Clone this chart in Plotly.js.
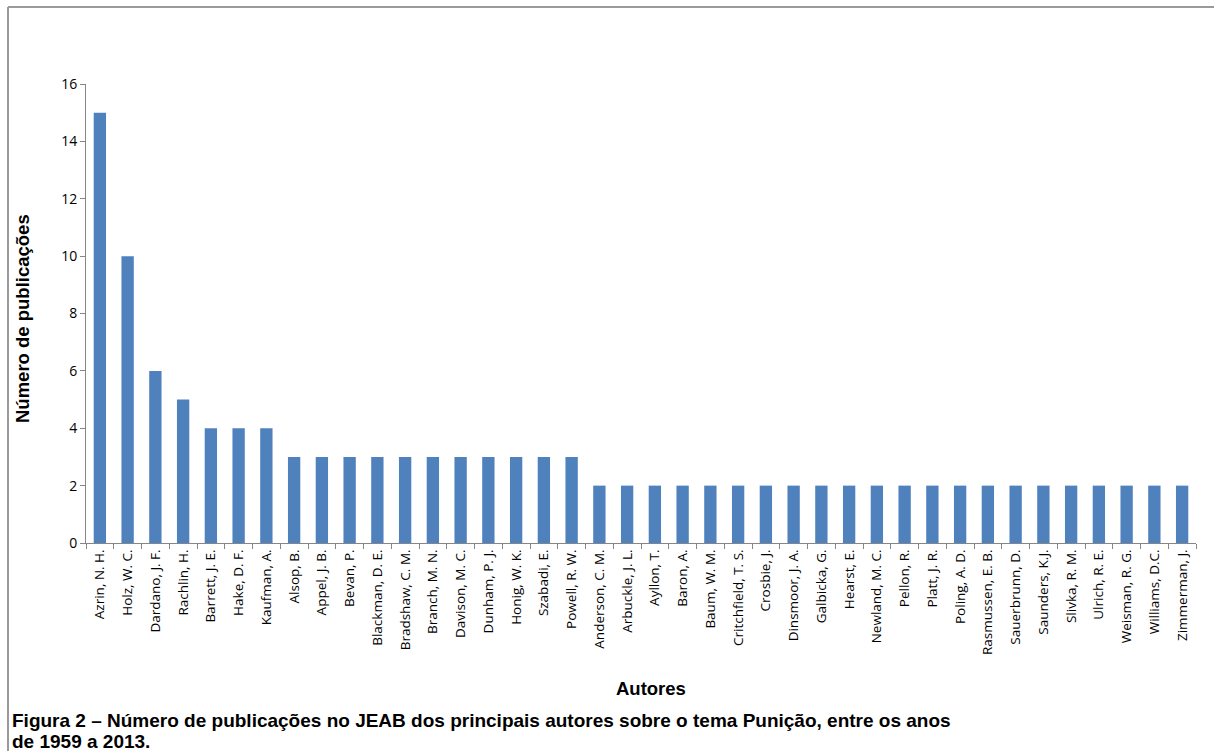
<!DOCTYPE html>
<html>
<head>
<meta charset="utf-8">
<script src="https://cdn.plot.ly/plotly-3.0.1.min.js"></script>
<style>html,body{margin:0;padding:0;background:#fff;}#chart{width:1214px;height:751px;}</style>
</head>
<body>
<div id="chart"></div>
<script>
const autores = ["Azrin, N. H.","Holz, W. C.","Dardano, J. F.","Rachlin, H.","Barrett, J. E.","Hake, D. F.","Kaufman, A.","Alsop, B.","Appel, J. B.","Bevan, P.","Blackman, D. E.","Bradshaw, C. M.","Branch, M. N.","Davison, M. C.","Dunham, P. J.","Honig, W. K.","Szabadi, E.","Powell, R. W.","Anderson, C. M.","Arbuckle, J. L.","Ayllon, T.","Baron, A.","Baum, W. M.","Critchfield, T. S.","Crosbie, J.","Dinsmoor, J. A.","Galbicka, G.","Hearst, E.","Newland, M. C.","Pellon, R.","Platt, J. R.","Poling, A. D.","Rasmussen, E. B.","Sauerbrunn, D.","Saunders, K.J.","Slivka, R. M.","Ulrich, R. E.","Weisman, R. G.","Williams, D.C.","Zimmerman, J."];
const publicacoes = [15,10,6,5,4,4,4,3,3,3,3,3,3,3,3,3,3,3,2,2,2,2,2,2,2,2,2,2,2,2,2,2,2,2,2,2,2,2,2,2];
const yTicks = [0,2,4,6,8,10,12,14,16];
const yTitle = "Número de publicações";
const xTitle = "Autores";
const captionLine1 = "Figura 2 – Número de publicações no JEAB dos principais autores sobre o tema Punição, entre os anos";
const captionLine2 = "de 1959 a 2013.";

const L = 86, R = 18, T = 84, B = 208, W = 1214, H = 751;
const pw = W - L - R, ph = H - T - B;
const px = x => (x - L) / pw;
const py = y => (H - B - y) / ph;
const boldFont = (s) => ({family: 'Liberation Sans, Arial, sans-serif', size: s, color: '#000'});

Plotly.newPlot('chart', [{
  type: 'bar',
  x: autores,
  y: publicacoes,
  marker: {color: '#4F81BD', line: {width: 0}},
  hoverinfo: 'x+y'
}], {
  width: W, height: H,
  margin: {l: L, r: R, t: T, b: B, pad: 0},
  paper_bgcolor: '#ffffff',
  plot_bgcolor: '#ffffff',
  bargap: 0.556,
  showlegend: false,
  font: {family: 'Open Sans, sans-serif', color: '#000'},
  xaxis: {
    type: 'category',
    tickangle: -90,
    tickson: 'boundaries',
    ticks: 'outside', ticklen: 5, tickcolor: '#868686', tickwidth: 1,
    showline: true, linecolor: '#868686', linewidth: 1,
    showgrid: false,
    tickfont: {family: 'Open Sans, sans-serif', size: 13.5, color: '#000'},
    title: {text: ''}
  },
  yaxis: {
    range: [0, 16],
    tickvals: yTicks,
    ticktext: yTicks.map(String),
    ticks: 'outside', ticklen: 5, tickcolor: '#868686', tickwidth: 1,
    showline: true, linecolor: '#868686', linewidth: 1,
    showgrid: false, zeroline: false,
    tickfont: {family: 'Open Sans, sans-serif', size: 14, color: '#000'},
    title: {text: ''}
  },
  annotations: [
    {xref: 'paper', yref: 'paper', x: px(22), y: py(319), text: '<b>' + yTitle + '</b>', textangle: -90,
     showarrow: false, font: boldFont(18.5), xanchor: 'center', yanchor: 'middle'},
    {xref: 'paper', yref: 'paper', x: px(651), y: py(688), text: '<b>' + xTitle + '</b>',
     showarrow: false, font: boldFont(18.5), xanchor: 'center', yanchor: 'middle'},
    {xref: 'paper', yref: 'paper', x: px(10), y: py(720), text: '<b>' + captionLine1 + '</b>', align: 'left',
     showarrow: false, font: boldFont(19), xanchor: 'left', yanchor: 'middle'},
    {xref: 'paper', yref: 'paper', x: px(10), y: py(741), text: '<b>' + captionLine2 + '</b>', align: 'left',
     showarrow: false, font: boldFont(19), xanchor: 'left', yanchor: 'middle'}
  ],
  shapes: [
    {type: 'line', xref: 'paper', yref: 'paper', x0: px(8), x1: px(1220), y0: py(7), y1: py(7), line: {color: '#9a9a9a', width: 2}},
    {type: 'line', xref: 'paper', yref: 'paper', x0: px(8), x1: px(8), y0: py(7), y1: py(760), line: {color: '#9a9a9a', width: 2}}
  ]
}, {displayModeBar: false, staticPlot: true});
</script>
</body>
</html>
